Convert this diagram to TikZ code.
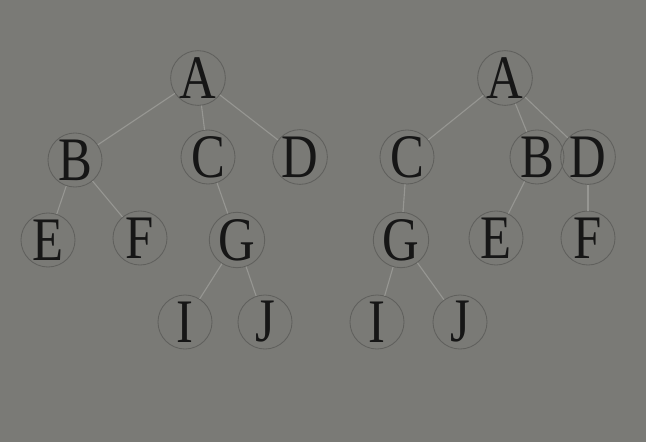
\documentclass[tikz,border=0pt]{standalone}
\usepackage{fontspec}
\setmainfont[FakeStretch=0.82]{Liberation Serif}
\usepackage{xcolor}
\usepackage{tikz}
\usetikzlibrary{positioning}

\definecolor{boardgray}{RGB}{122,122,118}
\definecolor{ringgray}{RGB}{96,96,93}
\definecolor{edgegray}{RGB}{150,150,146}
\definecolor{inkblack}{RGB}{22,22,22}

\begin{document}
\begin{tikzpicture}[
  x=0.025cm, y=-0.025cm,
  treenode/.style={
    circle,
    draw=ringgray,
    line width=0.6pt,
    minimum size=1.35cm,
    inner sep=0pt,
    text=inkblack,
    font=\fontsize{44}{44}\selectfont
  },
  branch/.style={draw=edgegray, line width=0.8pt}
]

% --- background ---
\fill[boardgray] (0,0) rectangle (646,442);
\useasboundingbox (0,0) rectangle (646,442);

% --- left tree ---
\node[treenode] (lA) at (198,78) {A};
\node[treenode] (lB) at (75,160) {B};
\node[treenode] (lC) at (208,157) {C};
\node[treenode] (lD) at (300,157) {D};
\node[treenode] (lE) at (48,240) {E};
\node[treenode] (lF) at (140,238) {F};
\node[treenode] (lG) at (237,240) {G};
\node[treenode] (lI) at (185,322) {I};
\node[treenode] (lJ) at (265,322) {J};

\draw[branch] (lA) -- (lB);
\draw[branch] (lA) -- (lC);
\draw[branch] (lA) -- (lD);
\draw[branch] (lB) -- (lE);
\draw[branch] (lB) -- (lF);
\draw[branch] (lC) -- (lG);
\draw[branch] (lG) -- (lI);
\draw[branch] (lG) -- (lJ);

% --- right tree ---
\node[treenode] (rA) at (505,78) {A};
\node[treenode] (rC) at (407,157) {C};
\node[treenode] (rB) at (537,157) {B};
\node[treenode] (rD) at (588,157) {D};
\node[treenode] (rG) at (401,240) {G};
\node[treenode] (rE) at (496,238) {E};
\node[treenode] (rF) at (588,238) {F};
\node[treenode] (rI) at (377,322) {I};
\node[treenode] (rJ) at (460,322) {J};

\draw[branch] (rA) -- (rC);
\draw[branch] (rA) -- (rB);
\draw[branch] (rA) -- (rD);
\draw[branch] (rC) -- (rG);
\draw[branch] (rB) -- (rE);
\draw[branch] (rD) -- (rF);
\draw[branch] (rG) -- (rI);
\draw[branch] (rG) -- (rJ);

\end{tikzpicture}
\end{document}
